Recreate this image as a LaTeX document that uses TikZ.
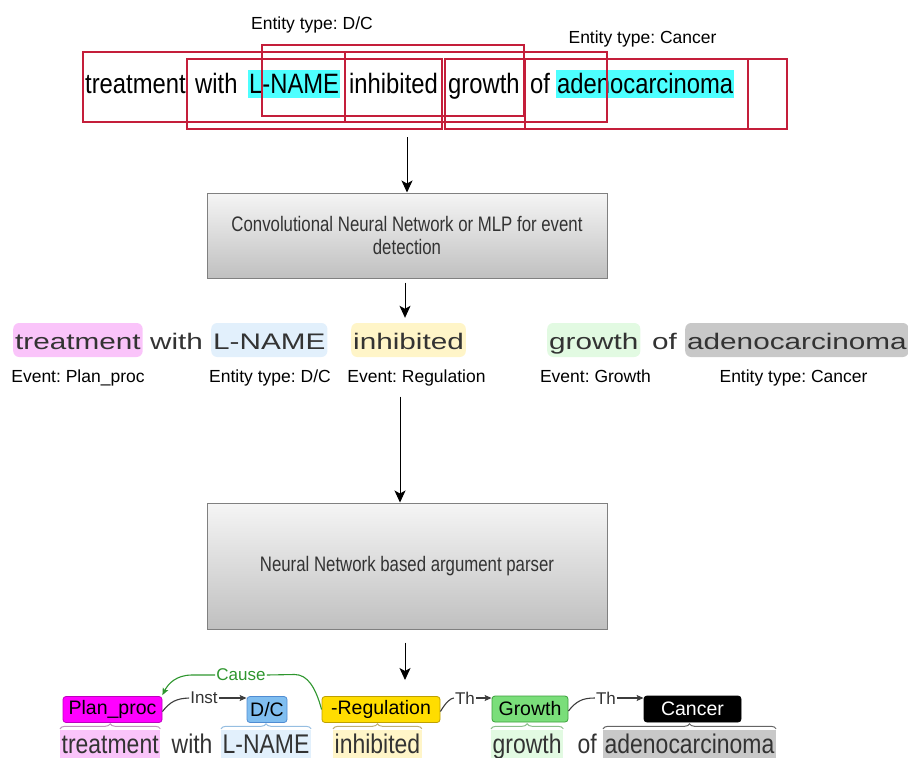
\documentclass[tikz,border=0pt]{standalone}
\usepackage{fontspec}
\setmainfont{Liberation Sans}
\newfontfamily\topf[FakeStretch=0.85]{Liberation Sans}
\newfontfamily\boxf[FakeStretch=0.80]{Liberation Sans}
\newfontfamily\midf[FakeStretch=1.32]{Liberation Sans}
\newfontfamily\botf[FakeStretch=0.85]{Liberation Sans}
\usetikzlibrary{arrows.meta,decorations.pathreplacing,calc}
\frenchspacing
\definecolor{redbox}{RGB}{196,30,58}
\definecolor{cyanhl}{RGB}{77,255,255}
\definecolor{pinkhl}{RGB}{250,196,250}
\definecolor{bluehl}{RGB}{226,240,252}
\definecolor{yellowhl}{RGB}{255,245,200}
\definecolor{greenhl}{RGB}{226,250,226}
\definecolor{grayhl}{RGB}{200,200,200}
\definecolor{boxtop}{RGB}{245,245,245}
\definecolor{boxbot}{RGB}{192,192,192}
\definecolor{boxline}{RGB}{128,128,128}
\definecolor{txtdark}{RGB}{51,51,51}
\definecolor{magfill}{RGB}{255,0,255}
\definecolor{magline}{RGB}{190,0,190}
\definecolor{dcfill}{RGB}{128,190,240}
\definecolor{dcline}{RGB}{80,140,210}
\definecolor{regfill}{RGB}{255,221,0}
\definecolor{regline}{RGB}{190,160,0}
\definecolor{grfill}{RGB}{122,222,122}
\definecolor{grline}{RGB}{60,160,60}
\definecolor{causegreen}{RGB}{46,150,46}
\definecolor{arcgray}{RGB}{60,60,60}
\begin{document}
\begin{tikzpicture}[x=1pt,y=-1pt,
  redrect/.style={draw=redbox,line width=1.1pt},
  topword/.style={anchor=base west,inner sep=0pt,font=\topf\fontsize{28}{30}\selectfont,text=black},
  tophl/.style={fill=cyanhl,inner xsep=1pt,text height=23pt,text depth=5pt},
  lbl/.style={anchor=base,inner sep=0pt,font=\fontsize{17.5}{20}\selectfont,text=black},
  procbox/.style={draw=boxline,line width=1pt,top color=boxtop,bottom color=boxbot,
    minimum width=400pt,align=center,text=txtdark,font=\boxf\fontsize{21}{23}\selectfont},
  midword/.style={anchor=base west,inner xsep=2pt,inner ysep=0pt,text height=26pt,text depth=8pt,
    rounded corners=6pt,text=txtdark,font=\midf\fontsize{22.5}{24}\selectfont},
  botword/.style={anchor=base west,inner xsep=1.5pt,inner ysep=0pt,text height=23pt,text depth=5pt,
    text=txtdark,font=\botf\fontsize{27}{29}\selectfont},
  annbox/.style={rounded corners=3pt,line width=0.8pt,inner sep=0pt,minimum height=26pt,
    font=\fontsize{19.5}{22}\selectfont,text=black},
  arclbl/.style={inner sep=1pt,font=\fontsize{17}{19}\selectfont,text=txtdark},
  arcl/.style={draw=arcgray,line width=1.1pt},
  causel/.style={draw=causegreen,line width=1.1pt},
  bigarr/.style={draw=black,line width=1pt,-{Stealth[length=12pt,width=11pt,inset=3pt]}},
  smallarr/.style={-{Stealth[length=7pt,width=6pt,inset=1.5pt]}},
  wbrace/.style={decorate,decoration={brace,amplitude=5pt},line width=1pt}
]
\useasboundingbox (0,0) rectangle (908,758);

% ---------- top row ----------
\node[lbl] (tl1) at (312,29.5) {Entity type: D/C};
\node[lbl] (tl2) at (642.5,43) {Entity type: Cancer};

\node[topword] (t1) at (85,93) {treatment};
\node[topword] (t2) at (195,93) {with};
\node[topword,tophl] (t3) at (248,93) {L-NAME};
\node[topword] (t4) at (349,93) {inhibited};
\node[topword] (t5) at (448,93) {growth};
\node[topword] (t6) at (530,93) {of};
\node[topword,tophl] (t7) at (556,93) {adenocarcinoma};

\draw[redrect] (83,52) rectangle (345,122);
\draw[redrect] (345,52) rectangle (607,122);
\draw[redrect] (187,59) rectangle (442,129);
\draw[redrect] (445,59) rectangle (525,129);
\draw[redrect] (525,59) rectangle (748,129);
\draw[redrect] (748,59) rectangle (787,129);
\draw[redrect] (262,45) rectangle (524,116);

% ---------- box 1 ----------
\node[procbox,minimum height=85pt] (box1) at (407,235.5)
  {Convolutional Neural Network or MLP for event\\detection};
\coordinate (a1s) at (407,137);
\draw[bigarr] (a1s) -- (box1.north);

% ---------- middle row ----------
\node[midword,fill=pinkhl] (m1) at (13,349) {treatment};
\node[midword] (m2) at (148,349) {with};
\node[midword,fill=bluehl] (m3) at (211,349) {L-NAME};
\node[midword,fill=yellowhl] (m4) at (351,349) {inhibited};
\node[midword,fill=greenhl] (m5) at (547,349) {growth};
\node[midword] (m6) at (650,349) {of};
\node[midword,fill=grayhl] (m7) at (685,349) {adenocarcinoma};

\node[lbl] (l1) at (78,382) {Event: Plan\_proc};
\node[lbl] (l2) at (270,382) {Entity type: D/C};
\node[lbl] (l3) at (416.5,382) {Event: Regulation};
\node[lbl] (l4) at (595.5,382) {Event: Growth};
\node[lbl] (l5) at (793.5,382) {Entity type: Cancer};

\draw[bigarr] ($(box1.south)+(-2,4)$) -- ($(box1.south |- m4.north)+(-2,-5)$);

% ---------- box 2 ----------
\node[procbox,minimum height=126pt] (box2) at (407,566) {Neural Network based argument parser};
\draw[bigarr] ($(box2.north)+(-7,-106)$) -- ($(box2.north)+(-7,0)$);
\coordinate (a4e) at (405,680);
\draw[bigarr] (box2.south -| a4e) ++(0,13) -- (a4e);

% ---------- bottom row ----------
\node[annbox,fill=magfill,draw=magline,minimum width=99pt] (pp) at (112.5,709.5) {Plan\_proc};
\node[annbox,fill=dcfill,draw=dcline,minimum width=40pt] (dc) at (267,709.5) {D/C};
\node[annbox,fill=regfill,draw=regline,minimum width=118pt] (reg) at (381,709.5) {-Regulation};
\node[annbox,fill=grfill,draw=grline,minimum width=76pt] (gr) at (530,709) {Growth};
\node[annbox,fill=black,draw=black,minimum width=97pt,text=white] (ca) at (692.5,709) {Cancer};

\node[botword,fill=pinkhl] (b1) at (60,753) {treatment};
\node[botword] (b2) at (170,753) {with};
\node[botword,fill=bluehl] (b3) at (221,753) {L-NAME};
\node[botword,fill=yellowhl] (b4) at (333,753) {inhibited};
\node[botword,fill=greenhl] (b5) at (491,753) {growth};
\node[botword] (b6) at (576,753) {of};
\node[botword,fill=grayhl] (b7) at (603,753) {adenocarcinoma};

\draw[wbrace,draw={rgb,255:red,190;green,150;blue,190}] ($(b1.north west)+(0,-1)$) -- ($(b1.north east)+(0,-1)$);
\draw[wbrace,draw={rgb,255:red,150;green,190;blue,225}] ($(b3.north west)+(0,-1)$) -- ($(b3.north east)+(0,-1)$);
\draw[wbrace,draw={rgb,255:red,190;green,175;blue,120}] ($(b4.north west)+(0,-1)$) -- ($(b4.north east)+(0,-1)$);
\draw[wbrace,draw={rgb,255:red,140;green,190;blue,140}] ($(b5.north west)+(0,-1)$) -- ($(b5.north east)+(0,-1)$);
\draw[wbrace,draw={rgb,255:red,100;green,100;blue,100}] ($(b7.north west)+(0,-1)$) -- ($(b7.north east)+(0,-1)$);

% arcs
\node[arclbl] (inst) at (204,698) {Inst};
\draw[arcl] ($(pp.east)+(0,2)$) .. controls ($(pp.east)+(8,-8)$) and ($(pp.east)+(14,-11)$) .. (inst.west);
\draw[arcl,smallarr] (inst.east) -- (inst.east -| dc.west);

\node[arclbl,text=causegreen] (cause) at (241,675) {Cause};
\draw[causel] (reg.west) .. controls ($(reg.west)+(-6,-22)$) and ($(reg.west)+(-14,-35)$) .. ($(reg.west)+(-27,-35)$) -- (cause.east);
\draw[causel,smallarr] (cause.west) -- (192,675) .. controls (176,675) and (168,684) .. ($(pp.north east)+(0,-1)$);

\node[arclbl] (th1) at (465,698) {Th};
\draw[arcl] ($(reg.east)+(0,2)$) .. controls ($(reg.east)+(6,-8)$) and ($(reg.east)+(10,-11)$) .. (th1.west);
\draw[arcl,smallarr] (th1.east) -- (th1.east -| gr.west);

\node[arclbl] (th2) at (606,698) {Th};
\draw[arcl] ($(gr.east)+(0,2)$) .. controls ($(gr.east)+(8,-8)$) and ($(gr.east)+(14,-11)$) .. (th2.west);
\draw[arcl,smallarr] (th2.east) -- (th2.east -| ca.west);
\end{tikzpicture}
\end{document}
